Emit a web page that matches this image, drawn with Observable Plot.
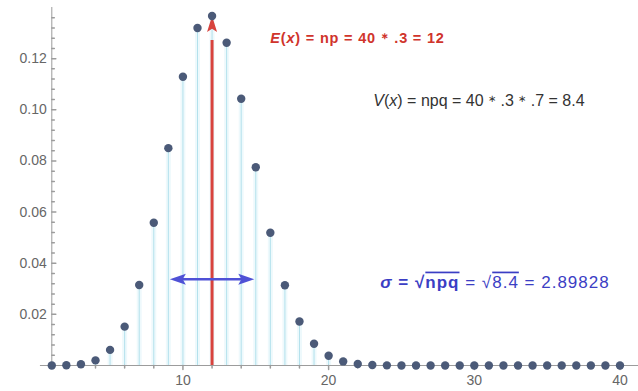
<!DOCTYPE html>
<html><head><meta charset="utf-8">
<script src="https://cdn.jsdelivr.net/npm/d3@7"></script>
<script src="https://cdn.jsdelivr.net/npm/@observablehq/plot@0.6"></script>
<style>body{margin:0;background:#fff}svg{display:block}</style>
</head><body><div id="chart"></div>
<script>
// k = 1..40 and probabilities
const ks = [1,2,3,4,5,6,7,8,9,10,11,12,13,14,15,16,17,18,19,20,21,22,23,24,25,26,27,28,29,30,31,32,33,34,35,36,37,38,39,40];
const probs = [0.00001,0.00009,0.0005,0.002,0.0061,0.0152,0.0315,0.0558,0.085,0.1129,0.1320,0.1367,0.1262,0.1043,0.0775,0.0519,0.0314,0.0172,0.0085,0.0038,0.0016,0.0006,0.0002,0.00006,0.00002,0,0,0,0,0,0,0,0,0,0,0,0,0,0,0];
const yMajor = [0.02,0.04,0.06,0.08,0.10,0.12];
const yMinor = [0.004,0.008,0.012,0.016,0.024,0.028,0.032,0.036,0.044,0.048,0.052,0.056,0.064,0.068,0.072,0.076,0.084,0.088,0.092,0.096,0.104,0.108,0.112,0.116,0.124,0.128,0.132,0.136];
const xMajor = [10,20,30,40];
const xMinor = [2,4,6,8,12,14,16,18,22,24,26,28,32,34,36,38];
const meanX = 12;
const sigma = 2.89828;
const sigmaArrowY = 0.0337;
const eText = [["E","i"],["(",""],["x","i"],[") = np = 40 ",""],["∗","s"],[" .3 = 12",""]];
const vText = [["V","i"],["(",""],["x","i"],[") = npq = 40 ",""],["∗","s"],[" .3 ",""],["∗","s"],[" .7 = 8.4",""]];
const sText = [["σ","bi"],[" = √","b"],["npq","bo"],[" = √",""],["8.4","o"],[" = 2.89828",""]];

const data = ks.map((k, i) => ({k, p: probs[i]}));
const peak = probs[meanX - 1];

const tickShape = {draw(ctx, l) { ctx.moveTo(0, 0); ctx.lineTo(0, -l); }};
const headShape = (w) => ({draw(ctx, l) { ctx.moveTo(0, 0); ctx.lineTo(-w / 2, l); ctx.lineTo(0, l * 0.8); ctx.lineTo(w / 2, l); ctx.closePath(); }});
const axisColor = "#9c9c9c";
const red = "#d8433d";
const blue = "#4f51d6";
const joinText = (parts) => parts.map(p => p[0]).join("");

const chart = Plot.plot({
  width: 638, height: 391,
  marginLeft: 51.3, marginRight: 0, marginTop: 7, marginBottom: 26,
  x: {domain: [1, 41.27], axis: null},
  y: {domain: [0, 0.14], axis: null},
  style: {fontFamily: "'Liberation Sans', Arial, sans-serif", background: "#fff"},
  marks: [
    Plot.ruleX(data, {x: "k", y1: 0, y2: "p", stroke: "#eef9fc", strokeWidth: 5}),
    Plot.ruleX(data, {x: "k", y1: 0, y2: "p", stroke: "#b3e1ec", strokeWidth: 1}),
    Plot.ruleY([0], {x1: 0.22, x2: 41.27, stroke: axisColor}),
    Plot.ruleX([1], {y1: 0, y2: 0.14, stroke: axisColor}),
    Plot.vector(yMajor, {x: 1, y: d => d, length: 4, rotate: 90, anchor: "start", shape: tickShape, stroke: axisColor}),
    Plot.vector(yMinor, {x: 1, y: d => d, length: 2.5, rotate: 90, anchor: "start", shape: tickShape, stroke: axisColor}),
    Plot.text(yMajor, {x: 1, y: d => d, text: d => d.toFixed(2), textAnchor: "end", dx: -5, fill: "#666", fontSize: 14}),
    Plot.vector(xMajor, {x: d => d, y: 0, length: 4, rotate: 180, anchor: "start", shape: tickShape, stroke: axisColor}),
    Plot.vector(xMinor, {x: d => d, y: 0, length: 2.5, rotate: 180, anchor: "start", shape: tickShape, stroke: axisColor}),
    Plot.text(xMajor, {x: d => d, y: 0, dy: 15, text: d => String(d), fill: "#666", fontSize: 14}),
    Plot.ruleX([meanX], {y1: 0, y2: peak * 0.93, stroke: red, strokeWidth: 3}),
    Plot.vector([meanX], {x: d => d, y: peak, length: 16, anchor: "start", shape: headShape(10), fill: red, stroke: "none"}),
    Plot.ruleY([sigmaArrowY], {x1: meanX - sigma + 0.5, x2: meanX + sigma - 0.5, stroke: blue, strokeWidth: 2.5}),
    Plot.vector([meanX + sigma], {x: d => d, y: sigmaArrowY, length: 16, rotate: 90, anchor: "start", shape: headShape(11), fill: blue, stroke: "none"}),
    Plot.vector([meanX - sigma], {x: d => d, y: sigmaArrowY, length: 16, rotate: -90, anchor: "start", shape: headShape(11), fill: blue, stroke: "none"}),
    Plot.dot(data, {x: "k", y: "p", r: 4.2, fill: "#4b5a78"}),
    Plot.text([joinText(eText)], {x: 16.0, y: 0.1278, text: d => d, textAnchor: "start", fill: "#d0342c", fontWeight: "bold", fontSize: 14.5, ariaDescription: "etext"}),
    Plot.text([joinText(vText)], {x: 23.07, y: 0.1033, text: d => d, textAnchor: "start", fill: "#333", fontSize: 16, ariaDescription: "vtext"}),
    Plot.text([joinText(sText)], {x: 23.55, y: 0.0326, text: d => d, textAnchor: "start", fill: "#3b3ec4", fontSize: 17, ariaDescription: "stext"})
  ]
});

function styleText(desc, parts, spacing) {
  const el = chart.querySelector(`g[aria-description="${desc}"] text`);
  if (!el) return;
  el.textContent = "";
  if (spacing) el.setAttribute("letter-spacing", spacing);
  for (const [s, f] of parts) {
    const t = document.createElementNS("http://www.w3.org/2000/svg", "tspan");
    t.textContent = s;
    if (f.includes("i")) t.style.fontStyle = "italic";
    if (f.includes("b")) t.style.fontWeight = "bold";
    if (f.includes("o")) t.style.textDecoration = "overline";
    if (f.includes("s")) { t.style.fontSize = "0.6em"; t.setAttribute("baseline-shift", "45%"); }
    el.appendChild(t);
  }
}
styleText("etext", eText, 0.8);
styleText("vtext", vText, 0);
styleText("stext", sText, 1);
document.getElementById("chart").appendChild(chart);
</script></body></html>
